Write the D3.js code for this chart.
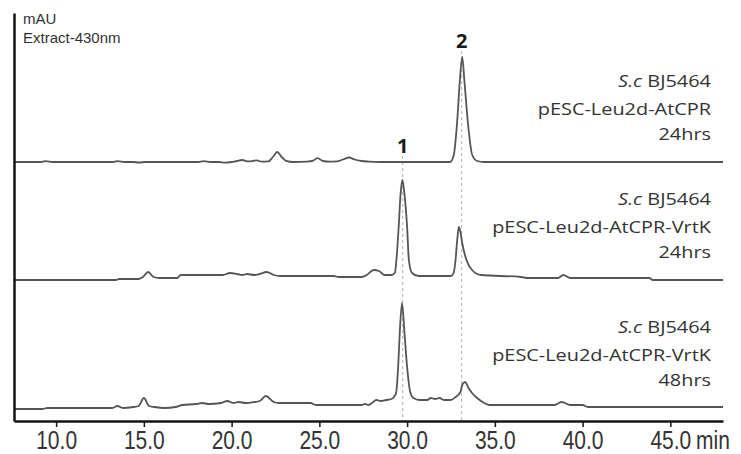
<!DOCTYPE html>
<html><head><meta charset="utf-8">
<script src="https://cdn.jsdelivr.net/npm/d3@7"></script>
<style>body{margin:0;background:#fff}svg{display:block}</style>
</head><body>
<svg id="c" width="741" height="454"></svg>
<script>
// ---------- data ----------
const samples = ["AtCPR-24", "AtCPR-VrtK-24", "AtCPR-VrtK-48"];
const speciesLabel = "S.c";
const strainLabel = " BJ5464";
const plasmidLabels = ["pESC-Leu2d-AtCPR", "pESC-Leu2d-AtCPR-VrtK", "pESC-Leu2d-AtCPR-VrtK"];
const timeLabels = ["24hrs", "24hrs", "48hrs"];
const xTicks = [10, 15, 20, 25, 30, 35, 40, 45];
const xUnit = "min";
const yTitle = ["mAU", "Extract-430nm"];
const peakNames = ["1", "2"];
const peakTimes = [29.75, 33.11];

// trace 1: S.c BJ5464 pESC-Leu2d-AtCPR 24hrs (time in min, absorbance in mAU)
const trace1Time = [7.6, 9.1, 9.4, 9.8, 13.2, 13.5, 13.9, 14.4, 14.7, 15.1, 18.1, 18.4, 18.8, 19.3, 19.6, 20.0, 20.3, 20.6, 20.9, 21.2, 21.45, 21.7, 22.1, 22.35, 22.6, 22.85, 23.1, 23.5, 24.3, 24.6, 24.9, 25.2, 25.6, 26.0, 26.35, 26.7, 27.0, 27.4, 27.8, 28.5, 32.45, 32.66, 32.85, 33.0, 33.14, 33.27, 33.46, 33.71, 34.0, 34.4, 48.0];
const trace1Abs  = [0, 0, 0.8, 0, 0, 0.8, 0, 0, -0.5, 0, 0, 0.8, 0, 0, -0.6, 0, 1.0, 2.0, 0.6, 1.0, 1.6, 0.3, 0.6, 5, 10, 5, 1.2, 0, 0.4, 1.0, 3.8, 1.0, 0.4, 0.6, 2.5, 4.5, 2.5, 1.0, 0.4, 0, 0, 7, 40, 80, 105, 80, 40, 7, 1, 0, 0];

// trace 2: S.c BJ5464 pESC-Leu2d-AtCPR-VrtK 24hrs
const trace2Time = [7.6, 13.4, 13.6, 14.7, 14.95, 15.25, 15.55, 15.9, 16.9, 17.1, 19.5, 19.9, 20.3, 20.6, 20.9, 21.3, 21.6, 22.0, 22.4, 22.8, 25.8, 26.1, 27.4, 27.7, 28.1, 28.4, 28.7, 29.1, 29.3, 29.39, 29.52, 29.62, 29.73, 29.86, 30.0, 30.1, 30.28, 30.65, 32.5, 32.65, 32.76, 32.86, 32.95, 33.05, 33.14, 33.38, 33.7, 34.2, 36.5, 36.8, 38.6, 38.9, 39.3, 43.8, 44.0, 48.0];
const trace2Abs  = [1, 1, 2, 2, 4, 9, 4, 3, 3, 6, 6, 8, 7, 6, 7, 6, 7, 9, 6, 5, 5, 4, 4, 6, 11, 10, 6, 6, 8, 21, 54, 85, 101, 85, 54, 21, 8, 5, 5, 8, 21, 42, 54, 48, 38, 21, 11, 6, 4, 3, 3, 6, 3, 3, 1, 1];

// trace 3: S.c BJ5464 pESC-Leu2d-AtCPR-VrtK 48hrs
const trace3Time = [7.6, 9.2, 9.5, 13.2, 13.5, 13.8, 14.4, 14.7, 15.0, 15.3, 15.6, 16.2, 16.8, 17.2, 18.0, 18.3, 18.7, 19.4, 19.75, 20.1, 20.4, 20.8, 21.3, 21.6, 21.95, 22.4, 22.7, 24.5, 24.8, 27.4, 27.6, 27.8, 28.0, 28.25, 28.5, 28.8, 29.1, 29.25, 29.37, 29.49, 29.58, 29.71, 29.85, 30.0, 30.19, 30.36, 30.7, 31.15, 31.35, 31.6, 31.85, 32.1, 32.47, 32.76, 33.04, 33.14, 33.3, 33.5, 33.7, 33.99, 34.4, 34.7, 38.4, 38.8, 39.3, 40.0, 40.3, 48.0];
const trace3Abs  = [-9, -9, -8, -8, -6, -8, -7, -6, 2, -6, -7, -8, -7, -5, -4, -3, -4, -3, -1, -3, -2, -3, -2, -1, 4, -2, -3, -3, -5, -5, -4, -5, -3, 0, -1, 0, 1, 3, 7, 33, 67, 97, 67, 33, 7, 2, 0, 0, 2, 1, 2, 0, 0, 3, 8, 15, 18, 12, 7, 2, -3, -5, -5, -2, -5, -5, -7, -7];

const traces = [
  {sample: samples[0], t: trace1Time, v: trace1Abs},
  {sample: samples[1], t: trace2Time, v: trace2Abs},
  {sample: samples[2], t: trace3Time, v: trace3Abs}
];

// ---------- layout ----------
const svg = d3.select("#c");
const axisY = 421, axisTop = 13;
const x = d3.scaleLinear([7.6, 48.0], [14, 723]);
const yPanel = d3.scalePoint(samples, [162, 400]);
const yAmp = d3.scaleLinear([0, 100], [0, 100]);
const yFrame = d3.scaleLinear([0, 1], [axisY, axisTop]);
const labelY = d3.scaleOrdinal(samples, [87, 205, 333]);

const traceColor = "#555";
const axisColor = "#151515";
const textColor = "#333";
const tickFont = "'Liberation Sans', Arial, sans-serif";
const tickSize = 25;
const tickSquash = 0.84;

// dashed reference lines + peak labels
peakTimes.forEach((pt, i) => {
  const near = d3.max(trace1Time.map((t, k) => Math.abs(t - pt) < 0.3 ? trace1Abs[k] : 0));
  const ly = yPanel(samples[0]) - yAmp(near) - 9;
  svg.append("line")
    .attr("x1", x(pt)).attr("x2", x(pt))
    .attr("y1", ly + 3).attr("y2", axisY)
    .attr("stroke", "#b0b0b0").attr("stroke-width", 1)
    .attr("stroke-dasharray", "3,3");
  svg.append("text")
    .attr("x", x(pt)).attr("y", ly)
    .attr("text-anchor", "middle")
    .attr("font-family", "'Open Sans', sans-serif")
    .attr("font-weight", "bold").attr("font-size", 20)
    .attr("fill", "#1a1a1a")
    .text(peakNames[i]);
});

// traces
traces.forEach(tr => {
  const pts = tr.t.map((t, k) => [t, tr.v[k]]);
  const line = d3.line()
    .x(d => x(d[0]))
    .y(d => yPanel(tr.sample) - yAmp(d[1]))
    .curve(d3.curveMonotoneX);
  svg.append("path").datum(pts)
    .attr("d", line)
    .attr("fill", "none")
    .attr("stroke", traceColor)
    .attr("stroke-width", 1.8)
    .attr("stroke-linejoin", "round");
});

// x axis
const xa = svg.append("g").attr("transform", `translate(0,${axisY})`)
  .call(d3.axisBottom(x).tickValues(xTicks).tickFormat(d3.format(".1f"))
    .tickSize(6).tickSizeOuter(0).tickPadding(4));
xa.select(".domain").attr("stroke", axisColor).attr("stroke-width", 2.5);
xa.selectAll(".tick line").attr("stroke", axisColor).attr("stroke-width", 1.5);
xa.selectAll(".tick text")
  .attr("font-family", tickFont)
  .attr("font-size", tickSize).attr("fill", textColor)
  .attr("transform", `scale(${tickSquash},1)`);
svg.append("text")
  .attr("transform", `translate(696,${axisY + 10}) scale(${tickSquash},1)`)
  .attr("dy", "0.71em")
  .attr("font-family", tickFont)
  .attr("font-size", tickSize).attr("fill", textColor)
  .text(xUnit);

// y axis (frame line)
const ya = svg.append("g").attr("transform", "translate(14,0)")
  .call(d3.axisLeft(yFrame).tickValues([]).tickSizeOuter(0));
ya.select(".domain").attr("stroke", axisColor).attr("stroke-width", 2.5);

// y title
yTitle.forEach((t, i) => {
  svg.append("text")
    .attr("x", 23).attr("y", 24 + i * 19)
    .attr("font-family", "'Liberation Sans', Arial, sans-serif")
    .attr("font-size", 15).attr("fill", textColor)
    .text(t);
});

// sample labels
samples.forEach((s, i) => {
  const g = svg.append("g")
    .attr("transform", `translate(711,${labelY(s)}) scale(1.17,1)`)
    .attr("font-family", "'Open Sans', sans-serif")
    .attr("font-size", 17).attr("fill", textColor)
    .attr("text-anchor", "end");
  const t0 = g.append("text").attr("x", 0).attr("y", 0);
  t0.append("tspan").attr("font-style", "italic").text(speciesLabel);
  t0.append("tspan").text(strainLabel);
  g.append("text").attr("x", 0).attr("y", 28).text(plasmidLabels[i]);
  g.append("text").attr("x", 0).attr("y", 53.5).text(timeLabels[i]);
});
</script>
</body></html>
